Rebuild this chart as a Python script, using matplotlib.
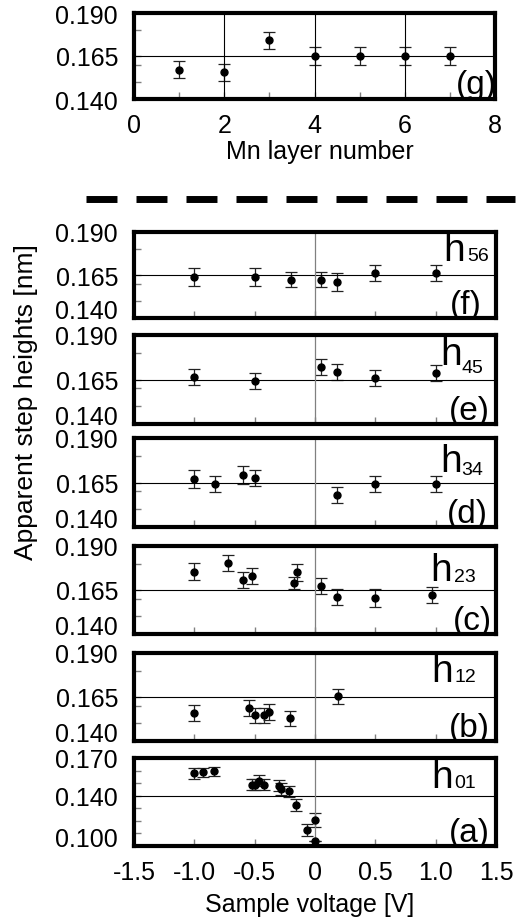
import matplotlib.pyplot as plt
from matplotlib.lines import Line2D

plt.rcParams['font.family'] = ['Liberation Sans', 'DejaVu Sans']

# (g) step height vs Mn layer number
g_layer = [1, 2, 3, 4, 5, 6, 7]
g_height = [0.157, 0.1555, 0.1742, 0.165, 0.165, 0.165, 0.165]
g_err = [0.005, 0.005, 0.005, 0.005, 0.005, 0.005, 0.005]

# (a)-(f) step heights vs sample voltage
f_volt = [-1.0, -0.5, -0.2, 0.05, 0.18, 0.5, 1.0]
f_height = [0.1638, 0.1638, 0.1623, 0.1623, 0.1609, 0.1663, 0.1663]
f_err = [0.005, 0.005, 0.0045, 0.0045, 0.005, 0.0045, 0.0045]

e_volt = [-1.0, -0.5, 0.05, 0.18, 0.5, 1.0]
e_height = [0.1666, 0.1643, 0.1718, 0.1694, 0.1657, 0.1687]
e_err = [0.0045, 0.0045, 0.0045, 0.0045, 0.0045, 0.0045]

d_volt = [-1.0, -0.83, -0.6, -0.5, 0.18, 0.5, 1.0]
d_height = [0.1669, 0.1641, 0.1691, 0.1674, 0.1581, 0.1641, 0.1641]
d_err = [0.005, 0.0045, 0.005, 0.0045, 0.0045, 0.0045, 0.0045]

c_volt = [-1.0, -0.72, -0.6, -0.52, -0.17, -0.15, 0.05, 0.18, 0.5, 0.97]
c_height = [0.1754, 0.1802, 0.1707, 0.1731, 0.169, 0.175, 0.1671, 0.1609, 0.1603, 0.1623]
c_err = [0.005, 0.0045, 0.0045, 0.0045, 0.0035, 0.005, 0.0045, 0.0045, 0.005, 0.0045]

b_volt = [-1.0, -0.55, -0.5, -0.42, -0.38, -0.21, 0.19]
b_height = [0.156, 0.1588, 0.1545, 0.1545, 0.1566, 0.1528, 0.1653]
b_err = [0.0045, 0.0045, 0.0045, 0.0045, 0.0045, 0.0045, 0.0045]

a_volt = [-1.0, -0.93, -0.84, -0.52, -0.5, -0.46, -0.42, -0.3, -0.28, -0.215, -0.16, -0.064, 0.0, 0.0]
a_height = [0.1578, 0.1586, 0.1594, 0.1488, 0.1488, 0.152, 0.1488, 0.148, 0.1453, 0.1435, 0.1326, 0.1127, 0.1207, 0.104]
a_err = [0.0045, 0.0035, 0.0035, 0.0045, 0.0045, 0.0045, 0.0045, 0.0045, 0.0045, 0.0045, 0.0045, 0.0045, 0.0053, 0.0]

volt_ticks = [-1.5, -1.0, -0.5, 0, 0.5, 1.0, 1.5]
volt_labels = ['-1.5', '-1.0', '-0.5', '0', '0.5', '1.0', '1.5']

W, H = 526, 920
fig = plt.figure(figsize=(W / 100, H / 100), dpi=100)


def rect(top, bottom, left=134, right=496):
    return [left / W, 1 - bottom / H, (right - left) / W, (bottom - top) / H]


def style(ax):
    for s in ax.spines.values():
        s.set_linewidth(3)
    ax.tick_params(which='both', direction='in', length=5, width=1, color='gray',
                   labelsize=18, top=False, right=False)
    ax.tick_params(axis='y', which='both', pad=11.5)
    ax.tick_params(axis='x', which='both', pad=10)


ebar = dict(fmt='o', color='k', ms=5, ecolor='#222222', elinewidth=0.9, capsize=4, capthick=0.9)

# ---- panel (g)
ax = fig.add_axes(rect(14, 100, 134, 495))
ax.errorbar(g_layer, g_height, yerr=g_err, **ebar)
ax.axhline(0.165, color='k', lw=0.8)
for xv in [2, 4, 6]:
    ax.axvline(xv, color='k', lw=0.8)
ax.set_xlim(0, 8)
ax.set_ylim(0.140, 0.190)
ax.set_xticks([0, 2, 4, 6, 8], ['0', '2', '4', '6', '8'])
ax.set_xticks([1, 3, 5, 7], minor=True)
ax.set_yticks([0.140, 0.165, 0.190], ['0.140', '0.165', '0.190'])
ax.set_yticks([0.15, 0.16, 0.18], minor=True)
style(ax)
ax.text(1.005, 0.07, '(g)', transform=ax.transAxes, ha='right', va='baseline',
        fontsize=24, clip_on=True)
fig.text(319.5 / W, 1 - 152 / H, 'Mn layer number', ha='center', va='center', fontsize=18)

# dashed separator
fig.add_artist(Line2D([86 / W, 515 / W], [1 - 200 / H, 1 - 200 / H], transform=fig.transFigure,
                      color='k', lw=5, dashes=(4.46, 2.74), dash_capstyle='butt'))

# ---- panels (f)..(a)
panels = [
    ('(f)', '56', f_volt, f_height, f_err, 0.165, (233, 319), (0.854, 0.674, 0.920, 0.674), 0.96),
    ('(e)', '45', e_volt, e_height, e_err, 0.165, (336, 425), (0.847, 0.674, 0.906, 0.588), 0.983),
    ('(d)', '34', d_volt, d_height, d_err, 0.165, (439, 528), (0.847, 0.633, 0.905, 0.596), 0.978),
    ('(c)', '23', c_volt, c_height, c_err, 0.165, (547, 635), (0.818, 0.614, 0.885, 0.606), 0.989),
    ('(b)', '12', b_volt, b_height, b_err, 0.165, (654, 742), (0.822, 0.685, 0.885, 0.678), 0.983),
    ('(a)', '01', a_volt, a_height, a_err, 0.140, (759, 847), (0.822, 0.667, 0.885, 0.67), 0.983),
]

for tag, sub, xs, ys, es, ref, (top, bot), (hx, hy, sx, sy), tx in panels:
    ax = fig.add_axes(rect(top, bot))
    ax.errorbar(xs, ys, yerr=es, **ebar)
    ax.axhline(ref, color='k', lw=0.8)
    ax.axvline(0, color='gray', lw=0.9)
    ax.set_xlim(-1.5, 1.5)
    if tag == '(a)':
        ax.set_ylim(0.100, 0.170)
        ax.set_yticks([0.100, 0.140, 0.170], ['0.100', '0.140', '0.170'])
        ax.set_yticks([0.11, 0.12, 0.13, 0.15, 0.16], minor=True)
        ax.set_xticks(volt_ticks, volt_labels)
    else:
        ax.set_ylim(0.140, 0.190)
        ax.set_yticks([0.140, 0.165, 0.190], ['0.140', '0.165', '0.190'])
        ax.set_yticks([0.15, 0.16, 0.18], minor=True)
        ax.set_xticks(volt_ticks, [''] * len(volt_ticks))
    style(ax)
    ax.yaxis.get_major_ticks()[0].label1.set_va('baseline')
    ax.text(hx, hy, 'h', transform=ax.transAxes, ha='left', va='baseline', fontsize=28)
    ax.text(sx, sy, sub, transform=ax.transAxes, ha='left', va='baseline', fontsize=14)
    ax.text(tx, 0.057, tag, transform=ax.transAxes, ha='right', va='baseline',
            fontsize=24, clip_on=True)

fig.text(309.5 / W, 1 - 905 / H, 'Sample voltage [V]', ha='center', va='center', fontsize=18)
fig.text(26 / W, 1 - 402 / H, 'Apparent step heights [nm]', ha='center', va='center',
         rotation=90, fontsize=19)

fig.savefig('out.png', dpi=100)
